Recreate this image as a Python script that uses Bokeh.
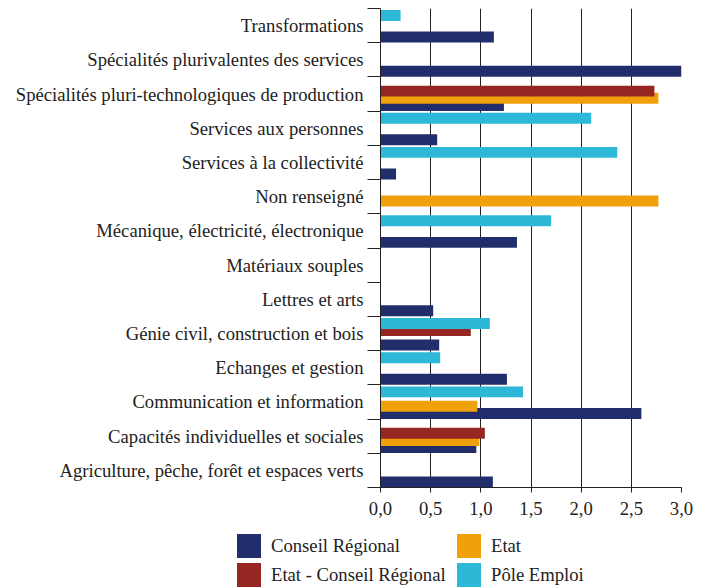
from bokeh.plotting import figure
from bokeh.layouts import column
from bokeh.models import (Range1d, FixedTicker, CustomJSTickFormatter, ColumnDataSource, Div)
from bokeh.transform import dodge
from bokeh.embed import file_html
from bokeh.resources import INLINE

# categories listed bottom to top
categories = [
    "Agriculture, pêche, forêt et espaces verts",
    "Capacités individuelles et sociales",
    "Communication et information",
    "Echanges et gestion",
    "Génie civil, construction et bois",
    "Lettres et arts",
    "Matériaux souples",
    "Mécanique, électricité, électronique",
    "Non renseigné",
    "Services à la collectivité",
    "Services aux personnes",
    "Spécialités pluri-technologiques de production",
    "Spécialités plurivalentes des services",
    "Transformations",
]
conseil_regional = [1.12, 0.955, 2.60, 1.26, 0.585, 0.525, 0, 1.36, 0, 0.155, 0.565, 1.23, 3.0, 1.13]
etat_conseil_regional = [0, 1.04, 0, 0, 0.90, 0, 0, 0, 0, 0, 0, 2.73, 0, 0]
etat = [0, 0.985, 0.965, 0, 0, 0, 0, 0, 2.77, 0, 0, 2.77, 0, 0]
pole_emploi = [0, 0, 1.42, 0.595, 1.09, 0, 0, 1.70, 0, 2.36, 2.10, 0, 0, 0.2]
x_ticks = [0, 0.5, 1.0, 1.5, 2.0, 2.5, 3.0]
series_labels = ["Conseil Régional", "Etat", "Etat - Conseil Régional", "Pôle Emploi"]

NAVY = "#222E6C"
RED = "#962622"
ORANGE = "#F0A00A"
CYAN = "#2CB8D6"
series_colors = [NAVY, ORANGE, RED, CYAN]
TXT = "#222222"
FONT = "Liberation Serif"
FS = "14pt"

n = len(categories)
centers = [i + 0.5 for i in range(n)]  # band centre of each category
src = ColumnDataSource(dict(pos=centers, cr=conseil_regional, ecr=etat_conseil_regional,
                            etat=etat, pe=pole_emploi))

p = figure(width=710, height=532,
           y_range=Range1d(0, n), x_range=Range1d(0, 3.0),
           output_backend="svg", toolbar_location=None,
           min_border_left=380, min_border_right=29,
           min_border_top=8, min_border_bottom=45)
p.outline_line_color = None
p.background_fill_color = "white"

# x axis
p.xaxis.ticker = FixedTicker(ticks=x_ticks)
p.xaxis.formatter = CustomJSTickFormatter(code="return tick.toFixed(1).replace('.', ',');")
p.xaxis.axis_line_color = TXT
p.xaxis.major_tick_line_color = TXT
p.xaxis.major_tick_out = 5
p.xaxis.major_tick_in = 0
p.xaxis.minor_tick_line_color = None
p.xaxis.major_label_standoff = 9
p.xaxis.major_label_text_font = FONT
p.xaxis.major_label_text_font_size = FS
p.xaxis.major_label_text_color = TXT
p.xgrid.ticker = FixedTicker(ticks=x_ticks)
p.xgrid.grid_line_color = "#222222"
p.ygrid.visible = False

# y axis: labels at band centres, ticks at band boundaries
yaxis = p.yaxis[0]
yaxis.ticker = FixedTicker(ticks=centers, minor_ticks=list(range(n + 1)))
yaxis.major_label_overrides = {c: name for c, name in zip(centers, categories)}
yaxis.major_tick_line_color = None
yaxis.major_tick_out = 0
yaxis.major_tick_in = 0
yaxis.minor_tick_out = 13
yaxis.minor_tick_in = 0
yaxis.minor_tick_line_color = TXT
yaxis.axis_line_color = TXT
yaxis.major_label_standoff = 4
yaxis.major_label_text_font = FONT
yaxis.major_label_text_font_size = FS
yaxis.major_label_text_color = TXT

H = 0.32
p.hbar(y=dodge("pos", -0.335), left=0, right="cr", height=H,
       fill_color=NAVY, line_color=None, source=src)
p.hbar(y=dodge("pos", -0.125), left=0, right="etat", height=H,
       fill_color=ORANGE, line_color=None, source=src)
p.hbar(y=dodge("pos", 0.085), left=0, right="ecr", height=H,
       fill_color=RED, line_color=None, source=src)
p.hbar(y=dodge("pos", 0.295), left=0, right="pe", height=H,
       fill_color=CYAN, line_color=None, source=src)

# legend (2 columns x 2 rows) below the chart, as real HTML text
col_x = [237, 457]
row_y = [2, 31]
parts = []
for k, (lab, colr) in enumerate(zip(series_labels, series_colors)):
    cx = col_x[k % 2]
    ry = row_y[k // 2]
    parts.append(
        f'<div style="position:absolute;left:{cx}px;top:{ry}px;width:24px;height:24px;'
        f'background:{colr};"></div>'
        f'<span style="position:absolute;left:{cx + 34}px;top:{ry}px;line-height:24px;'
        f'white-space:nowrap;">{lab}</span>'
    )
html = (f'<div style="position:relative;width:710px;height:55px;font-family:\'{FONT}\',serif;'
        f'font-size:{FS};color:{TXT};">' + "".join(parts) + '</div>')
legend_div = Div(text=html, width=710, height=55, margin=0)

layout = column(p, legend_div, spacing=0)
open("out.html", "w").write(file_html(layout, INLINE))
